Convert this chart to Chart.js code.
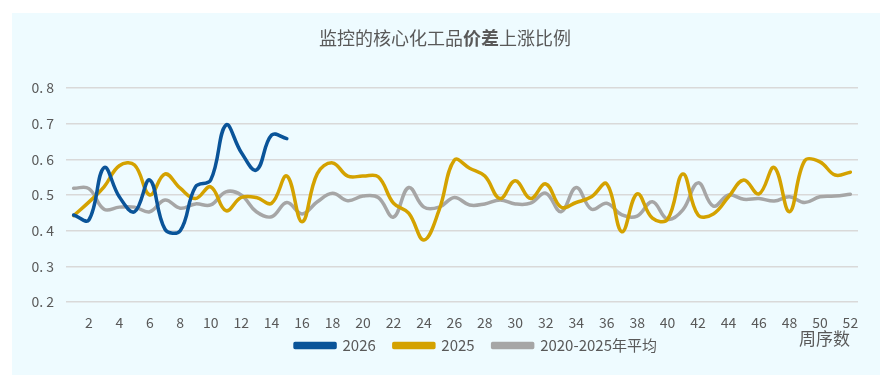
<!DOCTYPE html>
<html>
<head>
<meta charset="utf-8">
<script src="https://cdn.jsdelivr.net/npm/chart.js@4"></script>
<style>
  html, body { margin: 0; padding: 0; background: #fff; width: 888px; height: 391px; overflow: hidden; }
  #panel { position: absolute; left: 12px; top: 13px; width: 868px; height: 362px; background: #eefbff; }
  canvas { display: block; }
</style>
</head>
<body>
<div id="panel"><canvas id="c" width="868" height="362"></canvas></div>
<script>
// weeks 1..52
const weeks = Array.from({ length: 52 }, (_, i) => String(i + 1));
const yTicks = [0.2, 0.3, 0.4, 0.5, 0.6, 0.7, 0.8];

const s2026 = [0.444, 0.43, 0.577, 0.495, 0.453, 0.542, 0.404, 0.40, 0.523, 0.542,
  0.696, 0.62, 0.57, 0.668, 0.658];
const s2025 = [0.442, 0.48, 0.523, 0.582, 0.584, 0.50, 0.559, 0.519, 0.49, 0.523,
  0.456, 0.493, 0.493, 0.477, 0.553, 0.425, 0.56, 0.59, 0.553, 0.553,
  0.551, 0.477, 0.449, 0.374, 0.458, 0.598, 0.575, 0.553, 0.49, 0.54,
  0.49, 0.531, 0.466, 0.479, 0.495, 0.531, 0.397, 0.503, 0.435, 0.432,
  0.559, 0.444, 0.447, 0.495, 0.542, 0.503, 0.577, 0.453, 0.596, 0.593, 0.556, 0.564];
const sAvg = [0.519, 0.518, 0.46, 0.466, 0.466, 0.453, 0.486, 0.463, 0.475, 0.472,
  0.509, 0.50, 0.453, 0.439, 0.479, 0.447, 0.481, 0.505, 0.484, 0.497,
  0.493, 0.438, 0.521, 0.466, 0.466, 0.493, 0.472, 0.475, 0.486, 0.475,
  0.477, 0.505, 0.453, 0.521, 0.46, 0.477, 0.444, 0.441, 0.481, 0.432,
  0.458, 0.534, 0.469, 0.50, 0.488, 0.49, 0.483, 0.495, 0.479, 0.495, 0.497, 0.502];

const FONT = '"Noto Sans CJK SC", "Noto Sans", sans-serif';
const TXT = '#595959';

// title with bold middle part + x axis name; nudge legend up a bit
const extras = {
  id: 'extras',
  afterLayout(chart) {
    const lg = chart.legend;
    lg.top -= 12; lg.bottom -= 12;
    lg.left += 14; lg.right += 14;
  },
  afterDraw(chart) {
    const ctx = chart.ctx;
    const parts = [['监控的核心化工品', 'normal'], ['价差', 'bold'], ['上涨比例', 'normal']];
    ctx.save();
    ctx.fillStyle = TXT;
    ctx.textBaseline = 'middle';
    let w = 0;
    parts.forEach(p => { ctx.font = p[1] + ' 18px ' + FONT; w += ctx.measureText(p[0]).width; });
    let x = 433 - w / 2;
    parts.forEach(p => {
      ctx.font = p[1] + ' 18px ' + FONT;
      ctx.fillText(p[0], x, 25);
      x += ctx.measureText(p[0]).width;
    });
    ctx.font = '17px ' + FONT;
    ctx.textAlign = 'right';
    ctx.fillText('周序数', chart.chartArea.right - 8, 326);
    ctx.restore();
  }
};

const line = (label, data, color) => ({
  label, data, borderColor: color, backgroundColor: color,
  borderWidth: 3.5, pointRadius: 0, tension: 0.4, fill: false,
  borderCapStyle: 'round', borderJoinStyle: 'round'
});

new Chart(document.getElementById('c'), {
  type: 'line',
  data: {
    labels: weeks,
    datasets: [
      line('2026', s2026, '#0a5499'),
      line('2025', s2025, '#d4a200'),
      line('2020-2025年平均', sAvg, '#a6a6a6')
    ]
  },
  options: {
    responsive: false,
    animation: false,
    layout: { padding: { top: 75, right: 22, left: 0, bottom: 0 } },
    plugins: {
      title: { display: false },
      tooltip: { enabled: false },
      legend: {
        position: 'bottom',
        fullSize: false,
        labels: {
          boxWidth: 40, boxHeight: 4, padding: 18,
          color: TXT, font: { family: FONT, size: 15 }
        }
      }
    },
    scales: {
      x: {
        offset: true,
        grid: { display: false, drawTicks: false },
        border: { display: false },
        ticks: {
          autoSkip: false, maxRotation: 0, padding: 12,
          color: TXT, font: { family: FONT, size: 14 },
          callback: (v, i) => (i + 1) % 2 === 0 ? weeks[i] : ''
        },
        afterFit: s => { s.height = 30; }
      },
      y: {
        min: 0.2, max: 0.8,
        afterBuildTicks: s => { s.ticks = yTicks.map(v => ({ value: v })); },
        grid: { color: '#d9d9d9', lineWidth: 1.5, drawTicks: false },
        border: { display: false },
        ticks: {
          padding: 12, color: TXT, font: { family: FONT, size: 14 },
          callback: v => v.toFixed(1).replace('.', '. ')
        },
        afterFit: s => { s.width = 54; }
      }
    }
  },
  plugins: [extras]
});
</script>
</body>
</html>
